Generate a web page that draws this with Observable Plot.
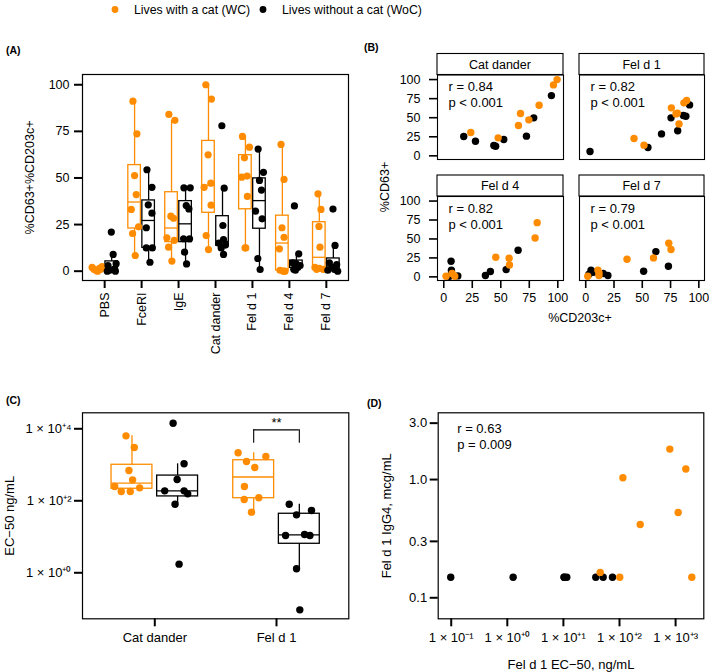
<!DOCTYPE html>
<html><head><meta charset="utf-8">
<script src="https://cdn.jsdelivr.net/npm/d3@7"></script>
<script src="https://cdn.jsdelivr.net/npm/@observablehq/plot@0.6"></script>
<style>
body{margin:0;background:#fff;}
#root{position:relative;width:709px;height:672px;overflow:hidden;background:#fff;}
</style></head><body><div id="root"></div><script>
// ---------------- data ----------------
const groups = ["WC", "WoC"];
const groupLabels = ["Lives with a cat (WC)", "Lives without a cat (WoC)"];
const groupColors = ["#FF8C00", "#000000"];

// Panel A: %CD63+%CD203c+ per stimulus
const aCategories = ["PBS", "FceRI", "IgE", "Cat dander", "Fel d 1", "Fel d 4", "Fel d 7"];
const aTicks = [0, 25, 50, 75, 100];
const aWC = [
  [2.0, 1.0, 0.5, 0.0, 1.5, 2.5, 1.0, 0.3],
  [91.2, 73.7, 51.3, 41.1, 33.1, 23.8, 20.2, 8.4],
  [84.1, 80.9, 29.5, 28.4, 17.9, 16.5, 12.9, 5.4],
  [100, 92.3, 62.4, 47.2, 45, 35.4, 19.1, 11.6],
  [72.3, 66.5, 60.8, 51, 50.4, 40.1, 12.5, 12.5],
  [68, 49.2, 23.3, 18.2, 12, 0.5, 0, 0],
  [41.5, 33.1, 24, 12.9, 2, 1.5, 1, 1]
];
const aWoC = [
  [21, 9, 4, 3, 1, 0.5, 0, 0],
  [54.4, 45, 35.6, 31.1, 23.3, 12.5, 12.5, 4.8],
  [44.7, 44.7, 35.2, 33.4, 17.4, 17.4, 10.2, 3.9],
  [78, 44.5, 24.5, 17, 15, 14, 12.5, 9],
  [65.5, 53, 48.7, 43.5, 32.2, 28.1, 6.8, 0.9],
  [35, 9.3, 4.5, 4, 3, 2, 1, 0.5],
  [33.3, 13.8, 4.5, 3.5, 2, 1, 0.5, 0]
];
// horizontal jitter (category units)
const aWCJitter = [
  [-0.15, -0.1, -0.05, 0.0, 0.05, 0.12, 0.08, -0.02],
  [-0.045, 0.063, 0, 0.045, -0.09, 0.108, -0.054, 0.018],
  [-0.072, 0.09, -0.018, 0.054, -0.126, 0.072, -0.08, 0.01],
  [-0.072, 0.08, -0.01, 0.063, -0.117, 0.07, -0.063, 0],
  [-0.08, 0.108, -0.027, 0.045, -0.1, 0.054, -0.01, 0.01],
  [-0.036, 0.045, -0.01, 0.045, -0.08, -0.063, 0.027, 0.072],
  [-0.036, 0.045, -0.01, 0.018, -0.117, 0, 0.108, -0.072]
];
const aWoCJitter = [
  [-0.01, 0.04, 0.12, -0.1, 0.06, -0.05, 0.1, -0.12],
  [-0.045, 0.09, -0.01, 0.09, -0.063, -0.063, 0.1, 0.036],
  [-0.045, 0.126, 0.018, 0.09, -0.054, 0.108, -0.027, 0.027],
  [-0.018, 0.045, 0.01, 0.027, -0.1, 0.08, -0.036, 0.027],
  [-0.036, 0.108, 0, 0.054, -0.108, 0.072, -0.045, 0.018],
  [-0.054, 0.063, -0.1, -0.01, 0.1, 0.036, -0.072, -0.027],
  [-0.01, 0.045, -0.108, 0.09, -0.036, 0.027, -0.15, 0.117]
];

// Panel B: %CD63+ vs %CD203c+
const bFacets = ["Cat dander", "Fel d 1", "Fel d 4", "Fel d 7"];
const bR = ["r = 0.84", "r = 0.82", "r = 0.82", "r = 0.79"];
const bP = ["p < 0.001", "p < 0.001", "p < 0.001", "p < 0.001"];
const bTicks = [0, 25, 50, 75, 100];
const bWCx = [
  [99.4, 96.2, 83.6, 67.3, 65.5, 74.6, 23.7, 47.7],
  [89.2, 86.8, 75.7, 79.8, 82.5, 42.7, 51.5, 81],
  [81.9, 80.1, 45.6, 57.3, 57.6, 2, 7.3, 9.6],
  [73.4, 75.4, 59.9, 36.5, 10.8, 11.7, 1.8, 11.7]
];
const bWCy = [
  [100, 93, 66.4, 55.5, 39.8, 47.2, 30.6, 23.6],
  [72.5, 69.5, 62.9, 55, 41.9, 22.7, 14, 56],
  [71.5, 51.3, 25.9, 24.6, 15.8, 0.9, 4.4, 0.9],
  [44.3, 36, 25, 23.2, 8.8, 1.8, 0.9, 5.3]
];
const bWoCx = [
  [94.4, 78.9, 72.5, 52.6, 43.9, 45.5, 17.5, 27.8],
  [91.8, 86.3, 75.4, 81.3, 67, 55, 3.8, 88.5],
  [65.2, 40.9, 36.5, 54.7, 6.4, 6.7, 12.3, 5],
  [62, 73.1, 51.2, 4.7, 6.7, 15.5, 19.6, 2.9]
];
const bWoCy = [
  [79, 49.8, 25.8, 21.4, 13.5, 12.5, 25.3, 19.2],
  [66.8, 52.9, 49.8, 32.8, 28.8, 10.9, 5.7, 52],
  [35.1, 7, 1.8, 9.6, 20.6, 8.8, 1.3, 0.9],
  [33.3, 14, 7.5, 8.8, 6.1, 4.4, 1.8, 3.5]
];

// Panel C: EC-50 ng/mL
const cCategories = ["Cat dander", "Fel d 1"];
const cTicks = [1, 100, 10000];
const cTickLabels = ["1 × 10⁺⁰", "1 × 10⁺²", "1 × 10⁺⁴"];
const cWC = [
  [6370, 3020, 693, 382, 249, 181, 181, 229],
  [2150, 1233, 1698, 841, 250, 109, 121, 48.3]
];
const cWoC = [
  [14300, 1064, 390, 189, 189, 156, 80.5, 1.74],
  [80.5, 40.7, 53.7, 10.9, 11.6, 10.9, 1.29, 0.0935]
];
const cWCJitter = [
  [-0.049, 0.019, -0.025, 0.005, -0.142, -0.088, -0.014, 0.063],
  [-0.128, -0.059, 0.1, 0.009, -0.076, -0.078, 0.042, -0.018]
];
const cWoCJitter = [
  [-0.037, 0.053, -0.004, -0.106, 0.053, 0.083, -0.021, 0.012],
  [-0.083, -0.023, 0.1, -0.113, 0.043, 0.087, -0.023, 0.004]
];
const cSignifCategory = [1];
const cSignifLabel = ["**"];
const cSignifTop = [9350];
const cSignifTip = [3980];

// Panel D: Fel d 1 IgG4 vs Fel d 1 EC-50
const dXTicks = [0.1, 1, 10, 100, 1000];
const dXTickLabels = ["1 × 10⁻¹", "1 × 10⁺⁰", "1 × 10⁺¹", "1 × 10⁺²", "1 × 10⁺³"];
const dYTicks = [0.1, 0.3, 1, 3];
const dYTickLabels = ["0.1", "0.3", "1.0", "3.0"];
const dWCx = [789, 1521, 115, 1112, 234, 45.3, 101, 1945];
const dWCy = [1.81, 1.23, 1.035, 0.527, 0.417, 0.164, 0.149, 0.149];
const dWoCx = [0.098, 1.27, 10.3, 10.3, 11.5, 37.8, 51.2, 75];
const dWoCy = [0.149, 0.149, 0.149, 0.149, 0.149, 0.149, 0.149, 0.149];
const dStats = ["r = 0.63", "p = 0.009"];

// ---------------- helpers ----------------
const W = 709, H = 672;
const FONT = '"Liberation Sans", Arial, Helvetica, sans-serif';
const root = document.getElementById("root");
const color = {domain: groups, range: groupColors};

function place(svg) {
  svg.style.position = "absolute"; svg.style.left = "0px"; svg.style.top = "0px";
  root.appendChild(svg);
}
function overlayPlot(frame, opts) {
  const [l, t, r, b] = frame;
  place(Plot.plot({
    width: W, height: H,
    marginLeft: l, marginTop: t, marginRight: W - r, marginBottom: H - b,
    color,
    style: {background: "transparent", fontFamily: FONT, overflow: "visible", color: "#000"},
    ...opts
  }));
}
function boxStats(vals) {
  const s = vals.slice().sort(d3.ascending);
  const q1 = d3.quantileSorted(s, 0.25), med = d3.quantileSorted(s, 0.5), q3 = d3.quantileSorted(s, 0.75);
  const iqr = q3 - q1;
  const lo = d3.min(s.filter(v => v >= q1 - 1.5 * iqr));
  const hi = d3.max(s.filter(v => v <= q3 + 1.5 * iqr));
  return {q1, med, q3, lo, hi};
}
function boxStatsLog(vals) {
  const s = boxStats(vals.map(Math.log10));
  return Object.fromEntries(Object.entries(s).map(([k, v]) => [k, 10 ** v]));
}
function boxMarks(boxes, hw, sw) {
  return [
    Plot.ruleX(boxes, {x: "xc", y1: "lo", y2: "hi", stroke: "g", strokeWidth: sw}),
    Plot.rect(boxes, {x1: d => d.xc - hw, x2: d => d.xc + hw, y1: "q1", y2: "q3", fill: "white", stroke: "g", strokeWidth: sw}),
    Plot.ruleY(boxes, {y: "med", x1: d => d.xc - hw, x2: d => d.xc + hw, stroke: "g", strokeWidth: sw})
  ];
}

// ---------------- Panel A ----------------
{
  const off = 0.19, hw = 0.17;
  const pts = [], boxes = [];
  aCategories.forEach((cat, i) => {
    [aWC, aWoC].forEach((series, gi) => {
      const jit = (gi ? aWoCJitter : aWCJitter)[i];
      const xc = i + (gi ? off : -off);
      series[i].forEach((v, k) => pts.push({x: xc + jit[k], v, g: groups[gi]}));
      boxes.push({xc, g: groups[gi], ...boxStats(series[i])});
    });
  });
  overlayPlot([82, 74, 348, 280], {
    x: {domain: [-0.6, 6.6], axis: null},
    y: {domain: [-5, 105.5], axis: null},
    marks: [
      ...boxMarks(boxes, hw, 1.3),
      Plot.dot(pts, {x: "x", y: "v", fill: "g", r: 3.6}),
      Plot.frame({stroke: "black", strokeWidth: 1.2}),
      Plot.axisY({ticks: aTicks, tickSize: 8, tickPadding: 5, strokeWidth: 2, fontSize: 12.5,
        label: "%CD63+%CD203c+", labelAnchor: "center", labelArrow: "none", labelOffset: 57}),
      Plot.axisX({ticks: d3.range(aCategories.length), tickFormat: i => aCategories[i], tickRotate: -90,
        tickSize: 8, tickPadding: 4, strokeWidth: 2, fontSize: 12.5, label: null})
    ]
  });
}

// ---------------- Panel B ----------------
const bFrames = [[437, 74.5, 563, 159], [579, 74.5, 704, 159], [437, 196, 563, 280], [579, 196, 704, 280]];
bFacets.forEach((name, f) => {
  const col = f % 2, row = Math.floor(f / 2);
  const pts = [];
  bWoCx[f].forEach((x, k) => pts.push({x, y: bWoCy[f][k], g: "WoC"}));
  bWCx[f].forEach((x, k) => pts.push({x, y: bWCy[f][k], g: "WC"}));
  const marks = [
    Plot.dot(pts, {x: "x", y: "y", fill: "g", r: 3.7}),
    Plot.frame({stroke: "black", strokeWidth: 1.1}),
    Plot.text([bR[f] + "\n" + bP[f]], {frameAnchor: "top-left", dx: 11, dy: 5, lineAnchor: "top",
      lineHeight: 1.23, fontSize: 13, text: d => d, fill: "black"})
  ];
  if (col === 0) marks.push(Plot.axisY({ticks: bTicks, tickSize: 8, tickPadding: 9, strokeWidth: 1.6, fontSize: 12.5, label: null}));
  if (row === 1) marks.push(Plot.axisX({ticks: bTicks, tickSize: 8, tickPadding: 5, strokeWidth: 1.6, fontSize: 12.5, label: null}));
  overlayPlot(bFrames[f], {
    x: {domain: [-5.5, 105], axis: null},
    y: {domain: [-4.8, 106], axis: null},
    marks
  });
});

// ---------------- Panel C ----------------
{
  const off = 0.1875, hw = 0.168;
  const pts = [], boxes = [];
  cCategories.forEach((cat, i) => {
    [cWC, cWoC].forEach((series, gi) => {
      const jit = (gi ? cWoCJitter : cWCJitter)[i];
      const xc = i + (gi ? off : -off);
      series[i].forEach((v, k) => pts.push({x: xc + jit[k], v, g: groups[gi]}));
      boxes.push({xc, g: groups[gi], ...boxStatsLog(series[i])});
    });
  });
  const sig = cSignifCategory.map((c, k) => ({c, label: cSignifLabel[k], top: cSignifTop[k], tip: cSignifTip[k]}));
  overlayPlot([82, 412.3, 348.3, 618.3], {
    x: {domain: [-0.594, 1.594], axis: null},
    y: {type: "log", domain: [0.0527, 27800], axis: null},
    marks: [
      ...boxMarks(boxes, hw, 1.3),
      Plot.dot(pts, {x: "x", y: "v", fill: "g", r: 3.7}),
      Plot.ruleX(sig, {x: d => d.c - off, y1: "tip", y2: "top", stroke: "black", strokeWidth: 1.1}),
      Plot.ruleX(sig, {x: d => d.c + off, y1: "tip", y2: "top", stroke: "black", strokeWidth: 1.1}),
      Plot.ruleY(sig, {y: "top", x1: d => d.c - off, x2: d => d.c + off, stroke: "black", strokeWidth: 1.1}),
      Plot.text(sig, {x: "c", y: "top", text: "label", dy: -3, lineAnchor: "bottom", fontSize: 13, fill: "black"}),
      Plot.frame({stroke: "black", strokeWidth: 1.2}),
      Plot.axisY({ticks: cTicks, tickFormat: d => cTickLabels[cTicks.indexOf(d)], tickSize: 8, tickPadding: 3,
        strokeWidth: 2, fontSize: 13, label: "EC−50 ng/mL", labelAnchor: "center", labelArrow: "none", labelOffset: 78}),
      Plot.axisX({ticks: [0, 1], tickFormat: i => cCategories[i], tickSize: 8, tickPadding: 6,
        strokeWidth: 2, fontSize: 13, label: null})
    ]
  });
}

// ---------------- Panel D ----------------
{
  const pts = [];
  dWoCx.forEach((x, k) => pts.push({x, y: dWoCy[k], g: "WoC"}));
  dWCx.forEach((x, k) => pts.push({x, y: dWCy[k], g: "WC"}));
  overlayPlot([437.7, 412.3, 703.3, 618.3], {
    x: {type: "log", domain: [0.0586, 3184], axis: null},
    y: {type: "log", domain: [0.0664, 3.67], axis: null},
    marks: [
      Plot.dot(pts, {x: "x", y: "y", fill: "g", r: 3.7}),
      Plot.frame({stroke: "black", strokeWidth: 1.2}),
      Plot.text([dStats.join("\n")], {frameAnchor: "top-left", dx: 19, dy: 9, lineAnchor: "top",
        lineHeight: 1.23, fontSize: 13, text: d => d, fill: "black"}),
      Plot.axisY({ticks: dYTicks, tickFormat: d => dYTickLabels[dYTicks.indexOf(d)], tickSize: 8, tickPadding: 3,
        strokeWidth: 2, fontSize: 13, label: "Fel d 1 IgG4, mcg/mL", labelAnchor: "center", labelArrow: "none", labelOffset: 56}),
      Plot.axisX({ticks: dXTicks, tickFormat: d => dXTickLabels[dXTicks.indexOf(d)], tickSize: 8, tickPadding: 6,
        strokeWidth: 2, fontSize: 13, label: "Fel d 1 EC−50, ng/mL", labelAnchor: "center", labelArrow: "none", labelOffset: 50})
    ]
  });
}

// ---------------- overlay: legend, panel tags, strips, shared labels ----------------
{
  const svg = d3.create("svg").attr("width", W).attr("height", H)
    .style("position", "absolute").style("left", "0px").style("top", "0px")
    .style("font-family", FONT);
  // legend
  const legX = [115, 263];
  groups.forEach((g, i) => {
    svg.append("circle").attr("cx", legX[i]).attr("cy", 9.5).attr("r", 3.4).attr("fill", groupColors[i]);
    svg.append("text").attr("x", legX[i] + 19).attr("y", 13.8).attr("font-size", 12.3).attr("fill", "#000").text(groupLabels[i]);
  });
  // panel tags
  [["(A)", 6, 53.5], ["(B)", 364, 50.5], ["(C)", 6, 404], ["(D)", 367, 407]].forEach(([t, x, y]) =>
    svg.append("text").attr("x", x).attr("y", y).attr("font-size", 10.5).attr("font-weight", "bold").text(t));
  // facet strips
  bFacets.forEach((name, f) => {
    const [l, t, r] = bFrames[f];
    svg.append("rect").attr("x", l).attr("y", t - 21).attr("width", r - l).attr("height", 21)
      .attr("fill", "white").attr("stroke", "black").attr("stroke-width", 1.1);
    svg.append("text").attr("x", (l + r) / 2).attr("y", t - 6).attr("text-anchor", "middle")
      .attr("font-size", 12.5).text(name);
  });
  // shared axis titles of panel B
  svg.append("text").attr("transform", "translate(389,187) rotate(-90)").attr("text-anchor", "middle")
    .attr("font-size", 12.5).text("%CD63+");
  svg.append("text").attr("x", 580).attr("y", 321.5).attr("text-anchor", "middle")
    .attr("font-size", 12.5).text("%CD203c+");
  root.insertBefore(svg.node(), root.firstChild);
}
</script></body></html>
